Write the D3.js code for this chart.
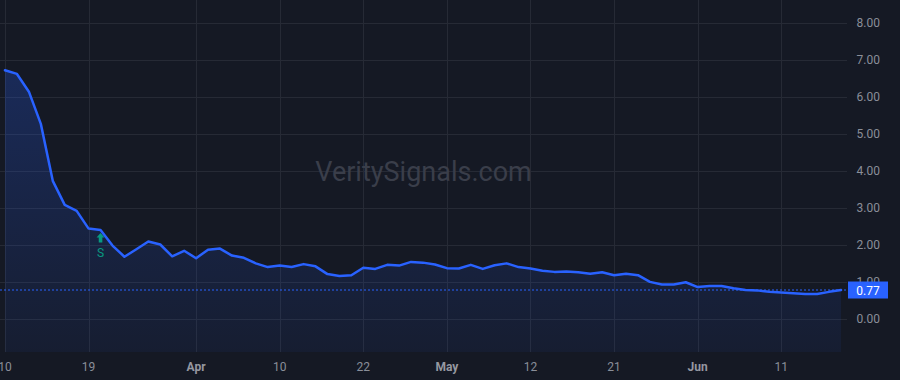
<!DOCTYPE html>
<html>
<head>
<meta charset="utf-8">
<script src="https://cdn.jsdelivr.net/npm/d3@7"></script>
<style>
  html, body { margin: 0; padding: 0; background: #151924; }
  svg { display: block; }
  text { font-family: Roboto, "Liberation Sans", Arial, sans-serif; }
</style>
</head>
<body>
<svg id="chart" width="900" height="380"></svg>
<script>
// Trading days (US market), Mar 10 – Jun 18, 2025
const dates = [
  "2025-03-10","2025-03-11","2025-03-12","2025-03-13","2025-03-14","2025-03-17","2025-03-18","2025-03-19","2025-03-20","2025-03-21",
  "2025-03-24","2025-03-25","2025-03-26","2025-03-27","2025-03-28","2025-03-31",
  "2025-04-01","2025-04-02","2025-04-03","2025-04-04","2025-04-07","2025-04-08","2025-04-09","2025-04-10","2025-04-11",
  "2025-04-14","2025-04-15","2025-04-16","2025-04-17","2025-04-21","2025-04-22","2025-04-23","2025-04-24","2025-04-25",
  "2025-04-28","2025-04-29","2025-04-30",
  "2025-05-01","2025-05-02","2025-05-05","2025-05-06","2025-05-07","2025-05-08","2025-05-09","2025-05-12","2025-05-13",
  "2025-05-14","2025-05-15","2025-05-16","2025-05-19","2025-05-20","2025-05-21","2025-05-22","2025-05-23","2025-05-27",
  "2025-05-28","2025-05-29","2025-05-30",
  "2025-06-02","2025-06-03","2025-06-04","2025-06-05","2025-06-06","2025-06-09","2025-06-10","2025-06-11","2025-06-12",
  "2025-06-13","2025-06-16","2025-06-17","2025-06-18"
];
const values = [
  6.71, 6.61, 6.13, 5.26, 3.72, 3.07, 2.91, 2.43, 2.39, 1.97,
  1.67, 1.87, 2.08, 2.00, 1.68, 1.83, 1.63, 1.86, 1.89, 1.70,
  1.64, 1.49, 1.39, 1.43, 1.39, 1.47, 1.41, 1.20, 1.15, 1.17,
  1.37, 1.34, 1.45, 1.43, 1.53, 1.51, 1.46, 1.36, 1.35, 1.45,
  1.34, 1.44, 1.49, 1.39, 1.35, 1.29, 1.26, 1.27, 1.25, 1.21,
  1.25, 1.17, 1.21, 1.17, 0.99, 0.92, 0.92, 0.98, 0.85, 0.88,
  0.88, 0.82, 0.77, 0.76, 0.72, 0.70, 0.68, 0.66, 0.66, 0.72, 0.77
];
const xTickDates = ["2025-03-10","2025-03-19","2025-04-01","2025-04-10","2025-04-22","2025-05-01","2025-05-12","2025-05-21","2025-06-02","2025-06-11"];
const xTickLabels = ["10","19","Apr","10","22","May","12","21","Jun","11"];
const xTickIsMonth = [false,false,true,false,false,true,false,false,true,false];
const yTicks = [0,1,2,3,4,5,6,7,8];
const signalDates = ["2025-03-20"];
const signalLabels = ["S"];
const lastValue = values[values.length - 1];

const W = 900, H = 380;
const plotRight = 847, plotBottom = 352;
const svg = d3.select("#chart");

const x = d3.scaleLinear().domain([0, 65]).range([5, 781.3]);
const y = d3.scaleLinear().domain([0, 8]).range([318.5, 22.5]);
const idx = d => dates.indexOf(d);

svg.append("rect").attr("width", W).attr("height", H).attr("fill", "#151924");

const defs = svg.append("defs");
defs.append("clipPath").attr("id", "plotclip")
  .append("rect").attr("x", 0).attr("y", 0).attr("width", plotRight).attr("height", plotBottom);
const grad = defs.append("linearGradient").attr("id", "areagrad")
  .attr("gradientUnits", "userSpaceOnUse")
  .attr("x1", 0).attr("x2", 0).attr("y1", y(d3.max(values))).attr("y2", plotBottom);
grad.append("stop").attr("offset", 0).attr("stop-color", "#2962ff").attr("stop-opacity", 0.24);
grad.append("stop").attr("offset", 1).attr("stop-color", "#2962ff").attr("stop-opacity", 0.06);

// grid
const grid = svg.append("g");
grid.selectAll("line.h").data(yTicks).join("line")
  .attr("x1", 0).attr("x2", plotRight)
  .attr("y1", d => Math.round(y(d)) + 0.5).attr("y2", d => Math.round(y(d)) + 0.5)
  .attr("stroke", "#262a35").attr("stroke-width", 1);
grid.selectAll("line.v").data(xTickDates).join("line")
  .attr("x1", d => Math.round(x(idx(d))) + 0.5).attr("x2", d => Math.round(x(idx(d))) + 0.5)
  .attr("y1", 0).attr("y2", plotBottom)
  .attr("stroke", "#262a35").attr("stroke-width", 1);

// watermark
svg.append("text").attr("x", 423.5).attr("y", 181)
  .attr("text-anchor", "middle").attr("font-size", 27)
  .attr("font-family", "'Liberation Sans', Arial, sans-serif")
  .attr("fill", "#3a3e4a").text("VeritySignals.com");

const plot = svg.append("g").attr("clip-path", "url(#plotclip)");
const pts = values.map((v, i) => [i, v]);
const area = d3.area().x(d => x(d[0])).y0(plotBottom).y1(d => y(d[1]));
const line = d3.line().x(d => x(d[0])).y(d => y(d[1]));
plot.append("path").datum(pts).attr("d", area).attr("fill", "url(#areagrad)");

// last value dotted line
plot.append("line").attr("x1", 0).attr("x2", plotRight)
  .attr("y1", y(lastValue)).attr("y2", y(lastValue))
  .attr("stroke", "#2962ff").attr("stroke-width", 1).attr("stroke-dasharray", "2,2");

plot.append("path").datum(pts).attr("d", line)
  .attr("fill", "none").attr("stroke", "#2962ff").attr("stroke-width", 2.5)
  .attr("stroke-linejoin", "round").attr("stroke-linecap", "round");

// signals
signalDates.forEach((d, k) => {
  const i = idx(d), cx = x(i), top = y(values[i]) + 3;
  const g = svg.append("g");
  g.append("path")
    .attr("d", `M${cx},${top} L${cx + 4},${top + 4.5} L${cx + 1.8},${top + 4.5} L${cx + 1.8},${top + 9.5} L${cx - 1.8},${top + 9.5} L${cx - 1.8},${top + 4.5} L${cx - 4},${top + 4.5} Z`)
    .attr("fill", "#089981");
  g.append("text").attr("x", cx).attr("y", top + 24).attr("text-anchor", "middle")
    .attr("font-size", 12).attr("fill", "#089981").text(signalLabels[k]);
});

// y axis labels
svg.selectAll("text.ylab").data(yTicks).join("text")
  .attr("class", "ylab").attr("x", 880).attr("y", d => y(d) + 4)
  .attr("text-anchor", "end").attr("font-size", 12).attr("fill", "#8a8e99")
  .text(d => d.toFixed(2));

// last value label
svg.append("rect").attr("x", 848).attr("y", y(lastValue) - 8.5).attr("width", 40).attr("height", 17)
  .attr("fill", "#2962ff");
svg.append("text").attr("x", 868).attr("y", y(lastValue) + 4.5).attr("text-anchor", "middle")
  .attr("font-size", 12).attr("fill", "#ffffff").text(lastValue.toFixed(2));

// x axis labels
svg.selectAll("text.xlab").data(xTickDates).join("text")
  .attr("class", "xlab").attr("x", d => x(idx(d))).attr("y", 371)
  .attr("text-anchor", "middle").attr("font-size", 12)
  .attr("font-weight", (d, i) => xTickIsMonth[i] ? "bold" : "normal")
  .attr("fill", (d, i) => xTickIsMonth[i] ? "#9598a1" : "#8a8e99")
  .text((d, i) => xTickLabels[i]);
</script>
</body>
</html>
